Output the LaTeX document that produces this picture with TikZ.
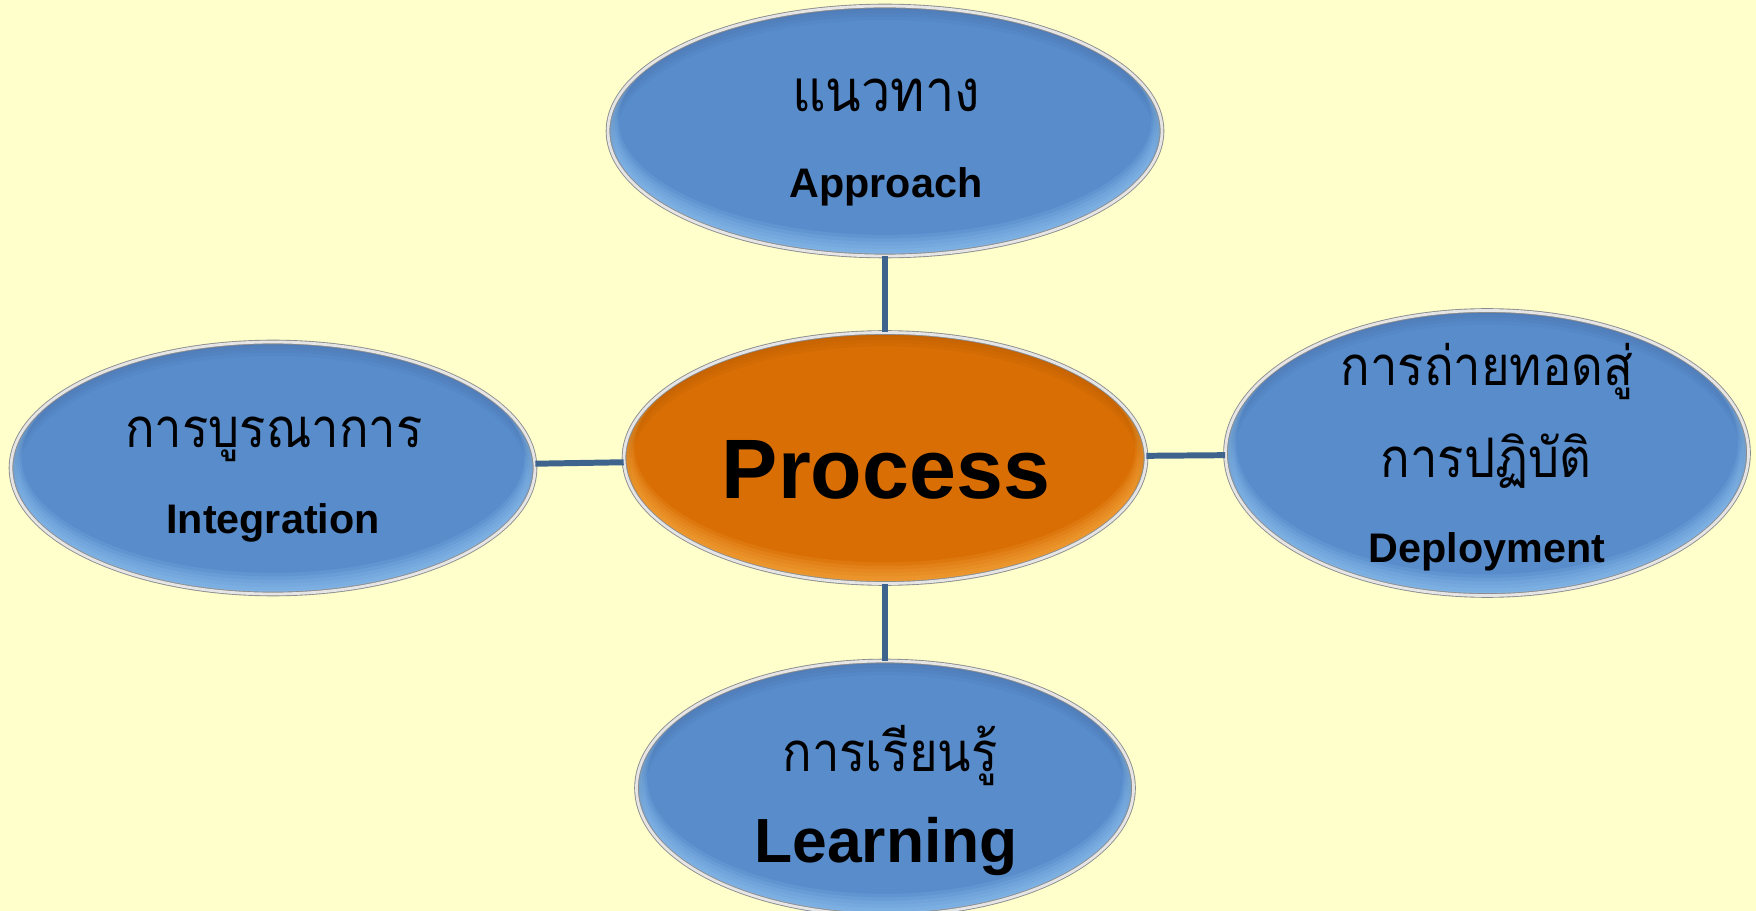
\documentclass[tikz,border=0pt]{standalone}
\usepackage{fontspec}
\setmainfont{Liberation Sans}
\newfontfamily\thaifont[Script=Thai, FakeStretch=0.9]{Loma}
\usetikzlibrary{shapes.geometric,calc}

\definecolor{paper}{RGB}{255,255,204}
\definecolor{topicblue}{RGB}{88,140,203}
\definecolor{topicbluehi}{RGB}{165,212,252}
\definecolor{huborange}{RGB}{217,110,5}
\definecolor{huborangehi}{RGB}{255,190,85}
\definecolor{linkblue}{RGB}{62,100,142}
\definecolor{rimgray}{RGB}{140,140,140}

\tikzset{
  % glossy ellipse: soft light band along the lower edge, a shade along the top
  bevel/.style={path picture={
      \foreach \k in {1,...,6}
        \draw[#1, line width=2*\k pt, opacity=.13]
          let \p1=(path picture bounding box.north east),
              \p2=(path picture bounding box.center) in
          ($(\p2)+(0pt,\k pt)$) ellipse [x radius=\x1-\x2, y radius=\y1-\y2];
      \foreach \k in {1,...,4}
        \draw[black, line width=2*\k pt, opacity=.025]
          let \p1=(path picture bounding box.north east),
              \p2=(path picture bounding box.center) in
          ($(\p2)+(0pt,-\k pt)$) ellipse [x radius=\x1-\x2, y radius=\y1-\y2];
    }},
  topic/.style={ellipse, inner sep=0pt, fill=topicblue, bevel=topicbluehi,
    draw=rimgray, double=white!90!black, double distance=1.6pt, line width=.5pt},
  hub/.style={topic, fill=huborange, bevel=huborangehi},
  link/.style={linkblue, line width=3.4pt},
  thai/.style={font=\thaifont\fontsize{31}{36}\selectfont, anchor=base},
  eng/.style={font=\bfseries\fontsize{23.5}{28}\selectfont, anchor=base}
}

\begin{document}
\begin{tikzpicture}[x=0.2mm, y=-0.2mm]
	\fill[paper] (0,0) rectangle (1756,911);
	\useasboundingbox (0,0) rectangle (1756,911);

	% ellipses
	\node[hub, minimum width=522*0.2mm, minimum height=251*0.2mm] (process) at (885,458) {};
	\node[topic, minimum width=554*0.2mm, minimum height=250*0.2mm] (approach) at (885,131) {};
	\node[topic, minimum width=524*0.2mm, minimum height=252*0.2mm] (integ) at (273,468) {};
	\node[topic, minimum width=523*0.2mm, minimum height=285*0.2mm] (deploy) at (1487,453) {};
	\node[topic, minimum width=497*0.2mm, minimum height=254*0.2mm] (learn) at (885,788) {};

	% spokes
	\draw[link] (approach) -- (process);
	\draw[link] (integ) -- (process);
	\draw[link] (process) -- (deploy);
	\draw[link] (process) -- (learn);

	% labels
	\node[thai, font=\thaifont\fontsize{33}{38}\selectfont] (approach-th) at (886,112) {แนวทาง};
	\node[eng] (approach-en) at (886,198) {Approach};
	\node[thai] (integ-th) at (274,447) {การบูรณาการ};
	\node[eng] (integ-en) at (273,533) {Integration};
	\node[thai] (deploy-th1) at (1487,386) {การถ่ายทอดสู่};
	\node[thai] (deploy-th2) at (1486,478) {การปฏิบัติ};
	\node[eng] (deploy-en) at (1487,562) {Deployment};
	\node[eng, font=\bfseries\fontsize{48}{56}\selectfont] (process-en) at (886,498) {Process};
	\node[thai] (learn-th) at (890,771) {การเรียนรู้};
	\node[eng, font=\bfseries\fontsize{35.5}{42}\selectfont] (learn-en) at (886,862) {Learning};
\end{tikzpicture}
\end{document}
